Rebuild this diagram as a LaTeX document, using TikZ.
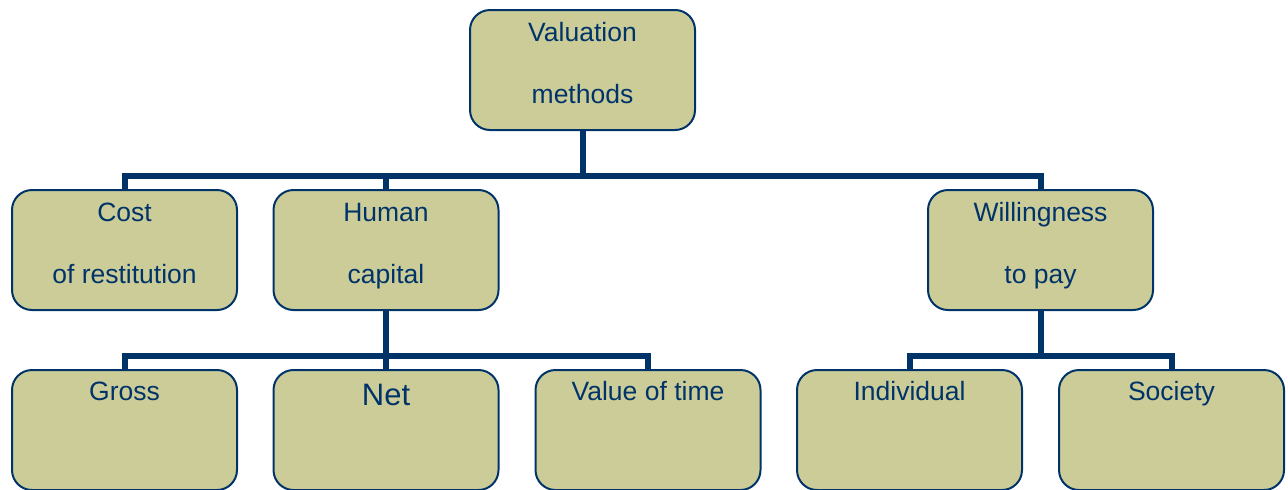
\documentclass[tikz,border=0pt]{standalone}
\usepackage{fontspec}
\setmainfont{Liberation Sans}
\begin{document}
\definecolor{navy}{RGB}{0,52,104}
\definecolor{khaki}{RGB}{204,204,153}
\begin{tikzpicture}[x=0.5pt,y=-0.5pt,
  box/.style={draw=navy, line width=1pt, fill=khaki, rounded corners=10pt,
    minimum width=112.5pt, minimum height=60pt, inner sep=0pt},
  lbl/.style={text=navy, font=\fontsize{13.25pt}{15pt}\selectfont, anchor=base, inner sep=0pt},
  biglbl/.style={lbl, font=\fontsize{15.5pt}{18pt}\selectfont},
  conn/.style={draw=navy, line width=3pt, line join=miter}]
\useasboundingbox (0,0) rectangle (1288,489);

% tree boxes
\node[box] (vm) at (582.5,70) {};
\node[box] (cr) at (124.5,250) {};
\node[box] (hc) at (386,250) {};
\node[box] (wp) at (1040.5,250) {};
\node[box] (gr) at (124.5,430) {};
\node[box] (nt) at (386,430) {};
\node[box] (vt) at (648,430) {};
\node[box] (in) at (909.5,430) {};
\node[box] (so) at (1171.5,430) {};

% connectors
\draw[conn] (vm.south) -- ++(0,45) -| (cr.north);
\draw[conn] (vm.south) -- ++(0,45) -| (hc.north);
\draw[conn] (vm.south) -- ++(0,45) -| (wp.north);
\draw[conn] (hc.south) -- ++(0,45) -| (gr.north);
\draw[conn] (hc.south) -- ++(0,45) -| (nt.north);
\draw[conn] (hc.south) -- ++(0,45) -| (vt.north);
\draw[conn] (wp.south) -- ++(0,45) -| (in.north);
\draw[conn] (wp.south) -- ++(0,45) -| (so.north);

% labels
\node[lbl] (vm1) at ([yshift=-16pt]vm.north) {Valuation};
\node[lbl] (vm2) at ([yshift=-47pt]vm.north) {methods};
\node[lbl] (cr1) at ([yshift=-16pt]cr.north) {Cost};
\node[lbl] (cr2) at ([yshift=-47pt]cr.north) {of restitution};
\node[lbl] (hc1) at ([yshift=-16pt]hc.north) {Human};
\node[lbl] (hc2) at ([yshift=-47pt]hc.north) {capital};
\node[lbl] (wp1) at ([yshift=-16pt]wp.north) {Willingness};
\node[lbl] (wp2) at ([yshift=-47pt]wp.north) {to pay};
\node[lbl] (gr1) at ([yshift=-15.5pt]gr.north) {Gross};
\node[biglbl] (nt1) at ([yshift=-18pt]nt.north) {Net};
\node[lbl] (vt1) at ([yshift=-15.5pt]vt.north) {Value of time};
\node[lbl] (in1) at ([yshift=-15.5pt]in.north) {Individual};
\node[lbl] (so1) at ([yshift=-15.5pt]so.north) {Society};
\end{tikzpicture}
\end{document}
